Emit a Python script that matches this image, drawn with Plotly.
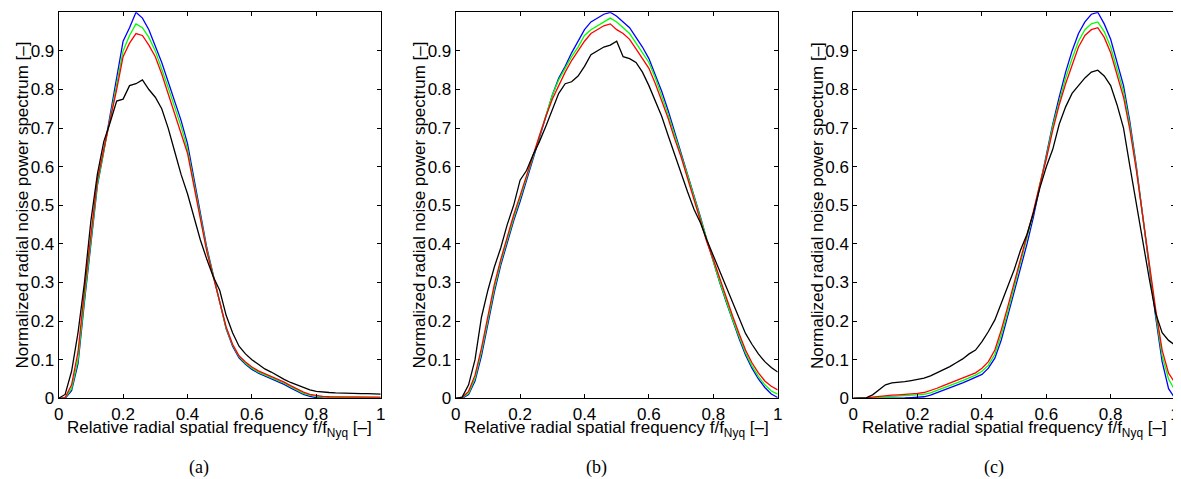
import plotly.graph_objects as go

# Relative radial spatial frequency (shared x grid)
freq = [round(i * 0.02, 2) for i in range(51)]

# ---------------- panel (a) ----------------
a_blue = [0, 0, 0.02, 0.09, 0.25, 0.40, 0.55, 0.64, 0.73, 0.83,
          0.925, 0.96, 1.0, 0.985, 0.955, 0.915, 0.87, 0.82, 0.77, 0.72,
          0.66, 0.57, 0.47, 0.39, 0.32, 0.25, 0.18, 0.135, 0.105, 0.088,
          0.075, 0.065, 0.058, 0.051, 0.043, 0.036, 0.027, 0.018, 0.010, 0.005,
          0.002, 0.001, 0, 0, 0, 0, 0, 0, 0, 0, 0]
a_green = [0, 0.001, 0.025, 0.10, 0.26, 0.41, 0.555, 0.64, 0.725, 0.815,
           0.90, 0.94, 0.97, 0.96, 0.935, 0.90, 0.855, 0.805, 0.755, 0.705,
           0.645, 0.56, 0.465, 0.385, 0.318, 0.25, 0.182, 0.138, 0.108, 0.091,
           0.078, 0.068, 0.061, 0.054, 0.046, 0.039, 0.030, 0.021, 0.013, 0.008,
           0.005, 0.004, 0.003, 0.003, 0.002, 0.002, 0.002, 0.002, 0.002, 0.002, 0.002]
a_red = [0, 0.002, 0.035, 0.12, 0.28, 0.43, 0.565, 0.645, 0.72, 0.80,
         0.885, 0.92, 0.945, 0.94, 0.915, 0.885, 0.84, 0.79, 0.74, 0.69,
         0.635, 0.55, 0.46, 0.38, 0.315, 0.25, 0.185, 0.14, 0.11, 0.094,
         0.081, 0.071, 0.064, 0.057, 0.049, 0.042, 0.033, 0.024, 0.016, 0.010,
         0.007, 0.005, 0.004, 0.004, 0.003, 0.003, 0.003, 0.003, 0.003, 0.003, 0.003]
a_black = [0, 0.01, 0.07, 0.17, 0.30, 0.46, 0.58, 0.665, 0.715, 0.77,
           0.775, 0.81, 0.815, 0.825, 0.80, 0.78, 0.75, 0.70, 0.64, 0.58,
           0.53, 0.47, 0.41, 0.36, 0.315, 0.28, 0.215, 0.17, 0.135, 0.115,
           0.10, 0.088, 0.076, 0.068, 0.058, 0.049, 0.041, 0.034, 0.027, 0.022,
           0.018, 0.016, 0.015, 0.014, 0.013, 0.013, 0.012, 0.012, 0.012, 0.012, 0.011]

# ---------------- panel (b) ----------------
b_blue = [0, 0, 0.01, 0.045, 0.11, 0.19, 0.275, 0.345, 0.405, 0.46,
          0.51, 0.565, 0.62, 0.675, 0.73, 0.785, 0.83, 0.86, 0.895, 0.925,
          0.955, 0.975, 0.985, 0.995, 1.0, 0.99, 0.975, 0.96, 0.935, 0.91,
          0.88, 0.84, 0.795, 0.745, 0.69, 0.64, 0.585, 0.53, 0.47, 0.41,
          0.354, 0.30, 0.25, 0.20, 0.155, 0.112, 0.078, 0.05, 0.028, 0.011, 0.002]
b_green = [0, 0.001, 0.013, 0.052, 0.12, 0.20, 0.285, 0.353, 0.412, 0.467,
           0.518, 0.572, 0.627, 0.68, 0.735, 0.785, 0.825, 0.855, 0.885, 0.91,
           0.94, 0.955, 0.965, 0.975, 0.985, 0.975, 0.96, 0.945, 0.92, 0.895,
           0.87, 0.83, 0.785, 0.735, 0.682, 0.632, 0.578, 0.522, 0.465, 0.408,
           0.355, 0.302, 0.252, 0.204, 0.16, 0.118, 0.084, 0.057, 0.035, 0.019, 0.011]
b_red = [0, 0.002, 0.018, 0.06, 0.13, 0.21, 0.295, 0.36, 0.42, 0.475,
         0.525, 0.578, 0.63, 0.68, 0.73, 0.775, 0.81, 0.845, 0.875, 0.90,
         0.925, 0.945, 0.955, 0.965, 0.97, 0.955, 0.945, 0.93, 0.905, 0.88,
         0.855, 0.815, 0.772, 0.725, 0.672, 0.625, 0.57, 0.515, 0.46, 0.405,
         0.36, 0.31, 0.26, 0.213, 0.168, 0.125, 0.092, 0.066, 0.045, 0.031, 0.022]
b_black = [0, 0.003, 0.035, 0.10, 0.21, 0.28, 0.34, 0.39, 0.45, 0.50,
           0.565, 0.59, 0.63, 0.665, 0.705, 0.745, 0.79, 0.815, 0.82, 0.835,
           0.86, 0.89, 0.90, 0.91, 0.915, 0.925, 0.885, 0.88, 0.87, 0.845,
           0.81, 0.77, 0.73, 0.68, 0.63, 0.58, 0.535, 0.49, 0.455, 0.41,
           0.37, 0.33, 0.29, 0.248, 0.208, 0.168, 0.14, 0.115, 0.095, 0.08, 0.068]

# ---------------- panel (c) ----------------
c_blue = [0, 0, 0, 0, 0, 0, 0.001, 0.001, 0.001, 0.002,
          0.003, 0.004, 0.008, 0.014, 0.021, 0.028, 0.034, 0.04, 0.047, 0.054,
          0.062, 0.078, 0.104, 0.151, 0.212, 0.276, 0.341, 0.40, 0.47, 0.55,
          0.625, 0.71, 0.78, 0.845, 0.90, 0.945, 0.975, 0.995, 1.0, 0.97,
          0.93, 0.87, 0.81, 0.715, 0.60, 0.47, 0.335, 0.21, 0.095, 0.025, 0]
c_green = [0, 0, 0.001, 0.002, 0.003, 0.004, 0.005, 0.005, 0.006, 0.007,
           0.008, 0.01, 0.014, 0.02, 0.027, 0.034, 0.04, 0.046, 0.053, 0.06,
           0.07, 0.086, 0.114, 0.164, 0.224, 0.287, 0.352, 0.41, 0.48, 0.555,
           0.625, 0.705, 0.77, 0.83, 0.88, 0.925, 0.955, 0.97, 0.975, 0.95,
           0.91, 0.855, 0.795, 0.705, 0.595, 0.47, 0.34, 0.22, 0.11, 0.05, 0.02]
c_red = [0, 0, 0.001, 0.003, 0.005, 0.007, 0.008, 0.009, 0.01, 0.011,
         0.013, 0.015, 0.02, 0.026, 0.033, 0.04, 0.046, 0.053, 0.06, 0.066,
         0.078, 0.095, 0.125, 0.177, 0.237, 0.298, 0.363, 0.419, 0.485, 0.555,
         0.62, 0.695, 0.76, 0.815, 0.865, 0.91, 0.94, 0.955, 0.96, 0.935,
         0.895, 0.84, 0.78, 0.695, 0.59, 0.47, 0.345, 0.23, 0.125, 0.065, 0.04]
c_black = [0, 0, 0.001, 0.009, 0.022, 0.035, 0.04, 0.041, 0.043, 0.046,
           0.05, 0.052, 0.058, 0.066, 0.073, 0.082, 0.092, 0.102, 0.115, 0.125,
           0.147, 0.173, 0.203, 0.246, 0.29, 0.333, 0.384, 0.425, 0.48, 0.545,
           0.60, 0.645, 0.71, 0.755, 0.79, 0.81, 0.83, 0.845, 0.85, 0.835,
           0.81, 0.76, 0.70, 0.60, 0.50, 0.40, 0.31, 0.22, 0.17, 0.15, 0.138]

panel_labels = ["(a)", "(b)", "(c)"]
x_ticks = [0, 0.2, 0.4, 0.6, 0.8, 1]
y_ticks = [round(i * 0.1, 1) for i in range(11)]

panels = [
    dict(blue=a_blue, green=a_green, red=a_red, black=a_black),
    dict(blue=b_blue, green=b_green, red=b_red, black=b_black),
    dict(blue=c_blue, green=c_green, red=c_red, black=c_black),
]

W, H = 1181, 479
OFF = 8  # page body margin offset of the figure div
# plot-area pixel boxes in page coordinates
x_px = [(58.7, 380.7), (455.7, 777.7), (853.3, 1175.0)]
y_top, y_bot = 12.3, 398.3


def px(xp):
    return (xp - OFF) / W


def py(yp):
    return (H - (yp - OFF)) / H


colors = {"blue": "#0000ff", "green": "#00ff00", "red": "#ff0000", "black": "#000000"}
order = ["blue", "green", "red", "black"]

fig = go.Figure()
tick_font = dict(family="Liberation Sans, Arial, sans-serif", size=17, color="black")
layout = dict(
    width=W, height=H, autosize=False,
    margin=dict(l=0, r=0, t=0, b=0, pad=0),
    paper_bgcolor="white", plot_bgcolor="white",
    showlegend=False,
    annotations=[],
)

for i, p in enumerate(panels):
    n = "" if i == 0 else str(i + 1)
    xa, ya = "x" + n, "y" + n
    for key in order:
        fig.add_trace(go.Scatter(
            x=freq, y=p[key], mode="lines", xaxis=xa, yaxis=ya,
            line=dict(color=colors[key], width=1.3),
            hoverinfo="skip",
        ))
    l, r = x_px[i]
    dom_x = [px(l), px(r)]
    dom_y = [py(y_bot), py(y_top)]
    common = dict(showline=True, linecolor="black", linewidth=1, mirror="ticks",
                  ticks="inside", ticklen=4, tickcolor="black", tickwidth=1,
                  showgrid=False, zeroline=False, tickfont=tick_font,
                  automargin=False)
    layout["xaxis" + n] = dict(domain=dom_x, anchor=ya, range=[0, 1],
                               tickvals=x_ticks, **common)
    layout["yaxis" + n] = dict(domain=dom_y, anchor=xa, range=[0, 1],
                               tickvals=y_ticks, **common)
    cx = (l + r) / 2
    # x-axis title
    layout["annotations"].append(dict(
        x=px(cx), y=py(429), xref="paper", yref="paper",
        text="Relative radial spatial frequency f/f<sub>Nyq</sub> [–]",
        showarrow=False, xanchor="center", yanchor="middle",
        font=tick_font))
    # y-axis title
    layout["annotations"].append(dict(
        x=px(l - 36.5), y=py((y_top + y_bot) / 2), xref="paper", yref="paper",
        text="Normalized radial noise power spectrum [–]", textangle=-90,
        showarrow=False, xanchor="center", yanchor="middle",
        font=tick_font))
    # panel caption
    layout["annotations"].append(dict(
        x=px(cx - 20.5), y=py(467), xref="paper", yref="paper",
        text=panel_labels[i], showarrow=False, xanchor="center", yanchor="middle",
        font=dict(family="Liberation Serif, Times New Roman, serif", size=18, color="black")))

fig.update_layout(**layout)
fig.write_html("out.html")
